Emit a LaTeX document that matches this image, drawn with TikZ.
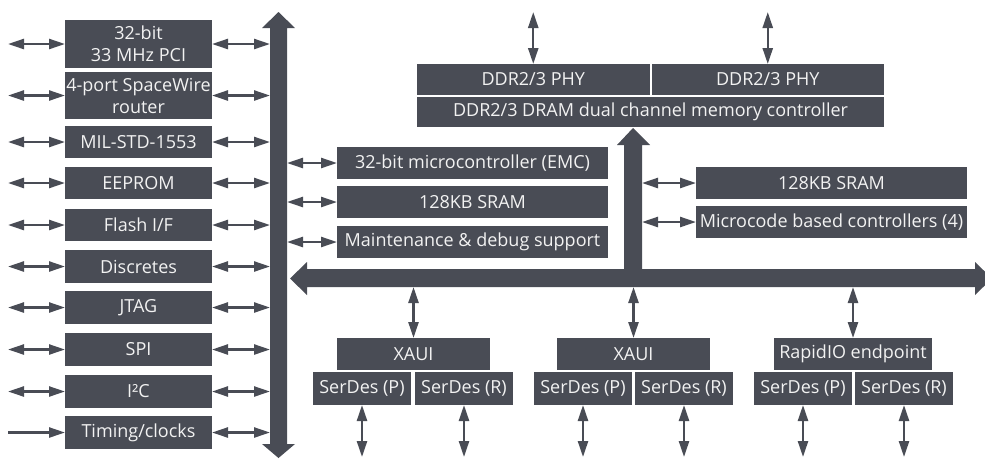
\documentclass[tikz,border=0pt]{standalone}
\usepackage{fontspec}
\setmainfont{Open Sans}
\usetikzlibrary{arrows.meta}
\definecolor{blockgrey}{RGB}{73,76,85}
\definecolor{labelwhite}{RGB}{242,242,242}
% block given by its pixel corners: name, x1, y1, x2, y2, label
\newcommand\blockat[6]{%
  \node[blk, minimum width={(#4-#2)*1pt}, minimum height={(#5-#3)*1pt}]
    (#1) at ({(#2+#4)/2},{(#3+#5)/2}) {#6};}
\begin{document}
\begin{tikzpicture}[x=1pt,y=-1pt,
  blk/.style={fill=blockgrey, text=labelwhite, inner sep=0pt, outer sep=0pt,
    align=center, font=\fontsize{18}{22}\selectfont},
  link/.style={draw=blockgrey, line width=2.4pt,
    {Triangle[length=16pt,width=10pt]}-{Triangle[length=16pt,width=10pt]}},
  feed/.style={draw=blockgrey, line width=2.4pt, -{Triangle[length=16pt,width=10pt]}},
  bus/.style={fill=blockgrey}]
\useasboundingbox (0,0) rectangle (985,459);
\clip (0,0) rectangle (985,459);

% reference lines for free connector ends
\coordinate (edgeL) at (8,0);
\coordinate (vbusL) at (270,0);
\coordinate (vbusR) at (287,0);
\coordinate (branchR) at (642,0);
\coordinate (topEdge) at (0,12);
\coordinate (hbusB) at (0,287);
\coordinate (botEdge) at (0,457);

% peripheral bus (vertical, two-headed)
\fill[bus] (270,28) -- (262,28) -- (278.5,12) -- (295,28) -- (287,28)
  -- (287,444) -- (295,444) -- (278.5,458) -- (262,444) -- (270,444) -- cycle;

% main bus (horizontal) with branch up to the memory controller
\fill[bus] (307,287) -- (975,287) -- (975,295) -- (992,278.5) -- (975,262) -- (975,269)
  -- (642,269) -- (642,145) -- (650,145) -- (633,128) -- (617,145) -- (624,145)
  -- (624,269) -- (307,269) -- (307,262) -- (290,278.5) -- (307,295) -- cycle;

% peripheral interfaces
\blockat{pci}{65}{20}{212}{68}{32-bit\\33 MHz PCI}
\blockat{spw}{65}{72}{212}{119}{4-port SpaceWire\\router}
\blockat{mil}{65}{126}{212}{158}{MIL-STD-1553}
\blockat{eeprom}{65}{167}{212}{199}{EEPROM}
\blockat{flash}{65}{209}{212}{241}{Flash I/F}
\blockat{disc}{65}{250}{212}{283}{Discretes}
\blockat{jtag}{65}{291}{212}{324}{JTAG}
\blockat{spi}{65}{333}{212}{366}{SPI}
\blockat{iic}{65}{375}{212}{408}{I²C}
\blockat{timing}{65}{416}{212}{449}{Timing/clocks}

\foreach \b in {pci,spw,mil,eeprom,flash,disc,jtag,spi,iic}{
  \draw[link] (\b.west -| edgeL) -- (\b.west);
}
\draw[feed] (timing.west -| edgeL) -- (timing.west);
\foreach \b in {pci,spw,mil,eeprom,flash,disc,jtag,spi,iic,timing}{
  \draw[link] (\b.east) -- (\b.east -| vbusL);
}

% control processor
\blockat{emc}{337}{147}{608}{179}{32-bit microcontroller (EMC)}
\blockat{sramA}{337}{186}{608}{218}{128KB SRAM}
\blockat{maint}{337}{226}{608}{258}{Maintenance \& debug support}
\foreach \b in {emc,sramA,maint}{
  \draw[link] (\b.west -| vbusR) -- (\b.west);
}

% microcode engines
\blockat{sramB}{696}{167}{967}{199}{128KB SRAM}
\blockat{ucode}{696}{206}{967}{238}{Microcode based controllers (4)}
\foreach \b in {sramB,ucode}{
  \draw[link] (\b.west -| branchR) -- (\b.west);
}

% memory subsystem
\blockat{phyA}{417}{64}{649.5}{95}{DDR2/3 PHY}
\blockat{phyB}{651.5}{64}{884}{95}{DDR2/3 PHY}
\blockat{memctl}{417}{97}{884}{127}{DDR2/3 DRAM dual channel memory controller}
\foreach \b in {phyA,phyB}{
  \draw[link] (\b.north |- topEdge) -- (\b.north);
}

% high-speed serial links
\blockat{xauiA}{337}{338}{490}{370}{XAUI}
\blockat{sdPA}{313}{372}{411}{405}{SerDes (P)}
\blockat{sdRA}{415}{372}{513}{405}{SerDes (R)}
\blockat{xauiB}{557}{338}{710}{370}{XAUI}
\blockat{sdPB}{534}{372}{632}{405}{SerDes (P)}
\blockat{sdRB}{635}{372}{733}{405}{SerDes (R)}
\blockat{rio}{774}{338}{932}{370}{RapidIO endpoint}
\blockat{sdPC}{754}{372}{852}{405}{SerDes (P)}
\blockat{sdRC}{855}{372}{953}{405}{SerDes (R)}
\foreach \b in {xauiA,xauiB,rio}{
  \draw[link] (\b.north |- hbusB) -- (\b.north);
}
\foreach \b in {sdPA,sdRA,sdPB,sdRB,sdPC,sdRC}{
  \draw[link] (\b.south) -- (\b.south |- botEdge);
}
\end{tikzpicture}
\end{document}
